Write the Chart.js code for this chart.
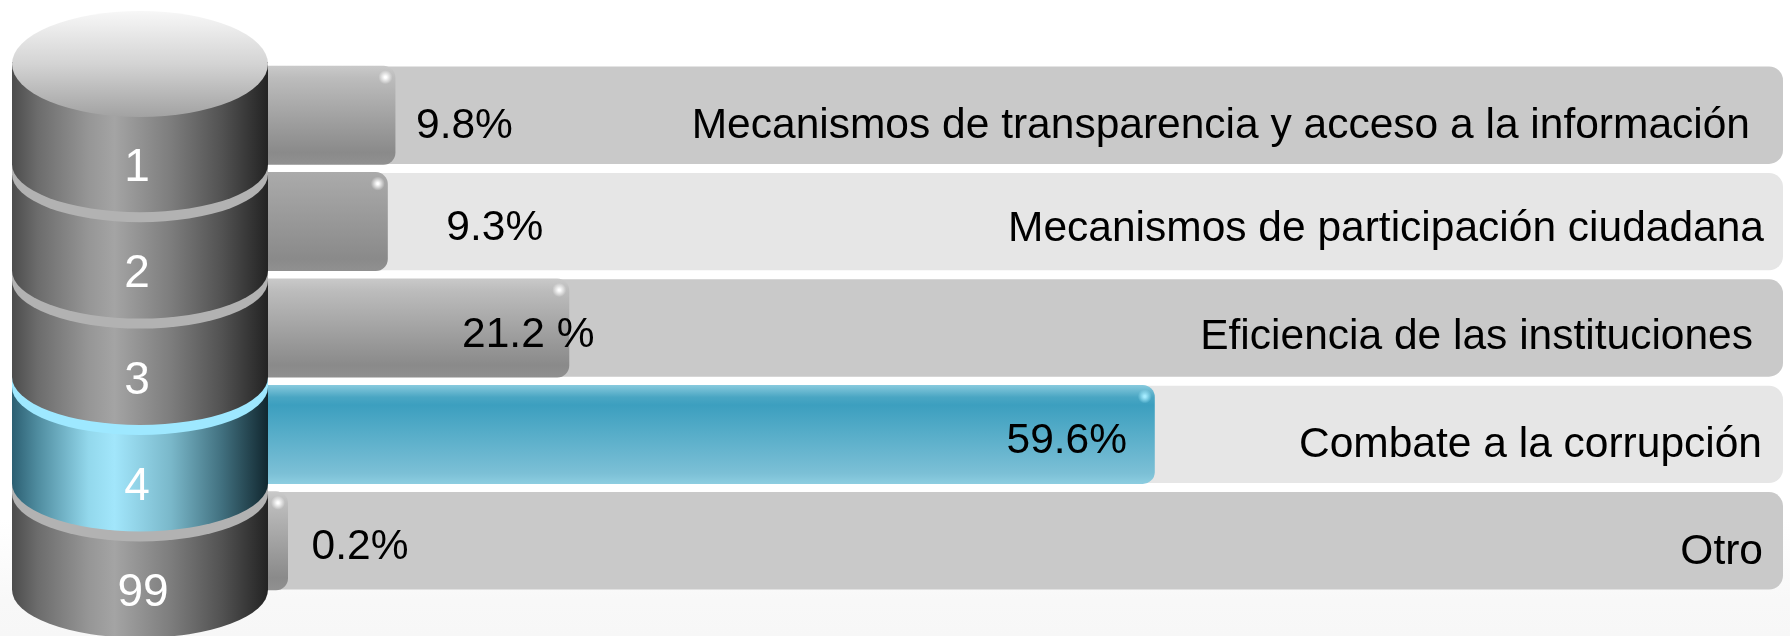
<!DOCTYPE html>
<html lang="es">
<head>
<meta charset="utf-8">
<title>Combate a la corrupción</title>
<script src="https://cdn.jsdelivr.net/npm/chart.js@4/dist/chart.umd.min.js"></script>
<style>
    html, body { margin: 0; padding: 0; }
    body {
        width: 1790px;
        height: 636px;
        overflow: hidden;
        background: linear-gradient(to bottom, #ffffff 0, #ffffff 520px, #f8f8f8 600px, #f7f7f7 636px);
    }
    canvas { display: block; }
</style>
</head>
<body>
<canvas id="chart" width="1790" height="636"></canvas>
<script>
const codes = ['1', '2', '3', '4', '99'];
const categories = [
    'Mecanismos de transparencia y acceso a la información',
    'Mecanismos de participación ciudadana',
    'Eficiencia de las instituciones',
    'Combate a la corrupción',
    'Otro'
];
const values = [9.8, 9.3, 21.2, 59.6, 0.2];
const valueLabels = ['9.8%', '9.3%', '21.2 %', '59.6%', '0.2%'];
const axisMax = 100.8;
const trackValues = [axisMax, axisMax, axisMax, axisMax, axisMax];
const highlighted = 3;

// Label nudges, relative to the end of each bar / right edge of each track
const valueNudge = [[69, 11], [107, 7], [-41, 7], [-88, 7], [72, 6]];
const nameRight = [-33, -19, -30, -21, -20];
const nameDrop = [11, 8, 9, 11, 11];

const FONT = '"Liberation Sans", Arial, sans-serif';

function rowGradient(chart, index) {
    // the dataset level options get resolved before there is any row or layout
    if (index === undefined || !chart.scales.y) return '#a0a0a0';
    const y = chart.scales.y.getPixelForValue(index);
    if (!isFinite(y)) return '#a0a0a0';
    const g = chart.ctx.createLinearGradient(0, y - 49, 0, y + 49);
    if (index === highlighted) {
        g.addColorStop(0, '#86c9dd');
        g.addColorStop(0.12, '#4aa6c3');
        g.addColorStop(0.2, '#3c9fbf');
        g.addColorStop(0.9, '#7cc0d6');
        g.addColorStop(1, '#8ccde0');
    } else {
        g.addColorStop(0, index === 1 ? '#aaaaaa' : '#c9c9c9');
        g.addColorStop(0.12, index === 1 ? '#a6a6a6' : '#bcbcbc');
        g.addColorStop(0.88, '#8a8a8a');
        g.addColorStop(1, '#909090');
    }
    return g;
}

function bodyGradient(ctx, cyan) {
    const g = ctx.createLinearGradient(12, 0, 268, 0);
    const stops = cyan
        ? [[0, '#2c5f72'], [0.1, '#4f8c9f'], [0.3, '#93d8ec'], [0.4, '#a2e6fb'], [0.62, '#7ab8ca'], [0.82, '#41707f'], [1, '#11272f']]
        : [[0, '#4c4c4c'], [0.1, '#6c6c6c'], [0.3, '#969696'], [0.4, '#a4a4a4'], [0.62, '#7d7d7d'], [0.82, '#525252'], [1, '#232323']];
    stops.forEach(s => g.addColorStop(s[0], s[1]));
    return g;
}

// The cylinder sits on top of the bars and takes its rows from the bar positions
const cylinderPlugin = {
    id: 'cylinder',
    afterDatasetsDraw(chart) {
        const ctx = chart.ctx;
        const bars = chart.getDatasetMeta(0).data;
        const left = 12, right = 268, cx = 140, rx = 128, ry = 48;
        const bottoms = bars.map(b => b.y + 49);

        function segment(topY, bottomY, fill) {
            ctx.beginPath();
            ctx.moveTo(left, topY);
            ctx.lineTo(right, topY);
            ctx.lineTo(right, bottomY);
            ctx.ellipse(cx, bottomY, rx, ry, 0, 0, Math.PI);
            ctx.closePath();
            ctx.fillStyle = fill;
            ctx.fill();
        }

        // bottom segment first, each upper one covers the top of the next
        for (let i = bars.length - 1; i >= 0; i--) {
            const topY = i === 0 ? 62 : bottoms[i - 1] - 5;
            if (i < bars.length - 1) {
                segment(bottoms[i] - 5, bottoms[i] + 10, i + 1 === highlighted ? '#9ee8ff' : '#b2b2b2');
            }
            segment(topY, bottoms[i], bodyGradient(ctx, i === highlighted));
        }

        // lid
        const lid = ctx.createLinearGradient(0, 10, 0, 117);
        lid.addColorStop(0, '#f8f8f8');
        lid.addColorStop(0.5, '#d4d4d4');
        lid.addColorStop(1, '#a2a2a2');
        ctx.beginPath();
        ctx.ellipse(cx, 64, rx, 53, 0, 0, Math.PI * 2);
        ctx.fillStyle = lid;
        ctx.fill();

        // codes
        ctx.fillStyle = '#ffffff';
        ctx.font = '46px ' + FONT;
        ctx.textAlign = 'center';
        ctx.textBaseline = 'middle';
        codes.forEach((code, i) => {
            const x = code.length > 1 ? 143 : 137;
            ctx.fillText(code, x, bottoms[i] + 4);
        });
    }
};

// Value and category texts, plus the small shine on each bar corner
const labelPlugin = {
    id: 'rowLabels',
    afterDatasetsDraw(chart) {
        const ctx = chart.ctx;
        const bars = chart.getDatasetMeta(0).data;
        const tracks = chart.getDatasetMeta(1).data;

        bars.forEach((bar, i) => {
            const sx = bar.x - 10, sy = bar.y - 38;
            const shine = ctx.createRadialGradient(sx, sy, 1, sx, sy, 7);
            shine.addColorStop(0, i === highlighted ? '#a5ecff' : '#ffffff');
            shine.addColorStop(1, i === highlighted ? 'rgba(165,236,255,0)' : 'rgba(255,255,255,0)');
            ctx.fillStyle = shine;
            ctx.fillRect(sx - 7, sy - 7, 14, 14);
        });

        ctx.fillStyle = '#000000';
        ctx.font = '42.5px ' + FONT;
        ctx.textBaseline = 'middle';
        bars.forEach((bar, i) => {
            ctx.textAlign = 'center';
            ctx.fillText(valueLabels[i], bar.x + valueNudge[i][0], bar.y + valueNudge[i][1]);
            ctx.textAlign = 'right';
            ctx.fillText(categories[i], tracks[i].x + nameRight[i], tracks[i].y + nameDrop[i]);
        });
    }
};

new Chart(document.getElementById('chart'), {
    type: 'bar',
    data: {
        labels: categories,
        datasets: [
            {
                label: 'Porcentaje',
                data: values,
                order: 1,
                grouped: false,
                barPercentage: 0.93,
                categoryPercentage: 1,
                minBarLength: 42,
                borderRadius: 12,
                inflateAmount: 0,
                backgroundColor: ctx => rowGradient(ctx.chart, ctx.dataIndex)
            },
            {
                label: 'Fondo',
                data: trackValues,
                order: 2,
                grouped: false,
                barPercentage: 0.915,
                categoryPercentage: 1,
                borderRadius: 14,
                inflateAmount: 0,
                backgroundColor: ctx => ctx.dataIndex % 2 === 0 ? '#c9c9c9' : '#e6e6e6'
            }
        ]
    },
    options: {
        indexAxis: 'y',
        responsive: false,
        animation: false,
        layout: { padding: { left: 246, right: 7, top: 62, bottom: 42 } },
        scales: {
            x: { display: false, min: 0, max: axisMax },
            y: { display: false, grid: { display: false } }
        },
        plugins: {
            legend: { display: false },
            tooltip: { enabled: false }
        }
    },
    plugins: [labelPlugin, cylinderPlugin]
});
</script>
</body>
</html>
